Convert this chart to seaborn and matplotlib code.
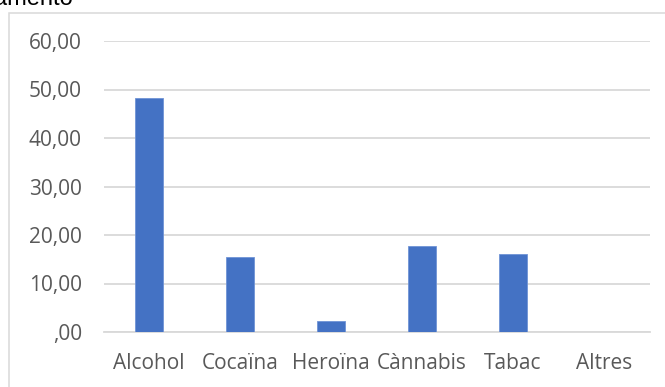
import matplotlib
matplotlib.use("Agg")
import matplotlib.pyplot as plt
import seaborn as sns
import pandas as pd
from matplotlib.patches import Rectangle

categories = ["Alcohol", "Cocaïna", "Heroïna", "Cànnabis", "Tabac", "Altres"]
values = [48.3, 15.4, 2.3, 17.8, 16.0, 0.0]
ytick_values = [0, 10, 20, 30, 40, 50, 60]
ytick_labels = [",00", "10,00", "20,00", "30,00", "40,00", "50,00", "60,00"]
title_fragment = "amento"

sns.set_style("white")
plt.rcParams['font.family'] = ['Open Sans', 'DejaVu Sans']

W, H = 665, 387
fig = plt.figure(figsize=(W / 100, H / 100), dpi=100)
ax = fig.add_axes([103.5 / W, (H - 332) / H, 546 / W, 291 / H])

df = pd.DataFrame({"cat": categories, "val": values})
sns.barplot(data=df, x="cat", y="val", color="#4472C4", saturation=1,
            width=0.31, ax=ax, edgecolor="#6f93d6", linewidth=0.6, zorder=3)

ax.set_ylim(0, 60)
ax.set_xlim(-0.5, len(categories) - 0.5)
ax.set_yticks(ytick_values)
ax.set_yticklabels(ytick_labels)
ax.yaxis.grid(True, color="#d9d9d9", linewidth=1.3, zorder=0)
ax.set_axisbelow(True)
for s in ["top", "right", "left"]:
    ax.spines[s].set_visible(False)
ax.spines["bottom"].set_color("#d9d9d9")
ax.spines["bottom"].set_linewidth(1.3)
ax.tick_params(axis="y", length=0, pad=15.5, labelsize=15, labelcolor="#595959")
ax.tick_params(axis="x", length=0, pad=15, labelsize=15, labelcolor="#595959")
ax.set_xlabel("")
ax.set_ylabel("")

# chart area frame
fig.patches.append(Rectangle((8.5, -5), 700, H - 12.5 + 5, transform=None,
                             fill=False, edgecolor="#d9d9d9", linewidth=1.1))

fig.text(-6 / W, 1 - 5 / H, title_fragment, ha="left", va="baseline",
         fontsize=17, color="black", family=["Liberation Sans", "DejaVu Sans"])

fig.savefig("out.png", dpi=100)
